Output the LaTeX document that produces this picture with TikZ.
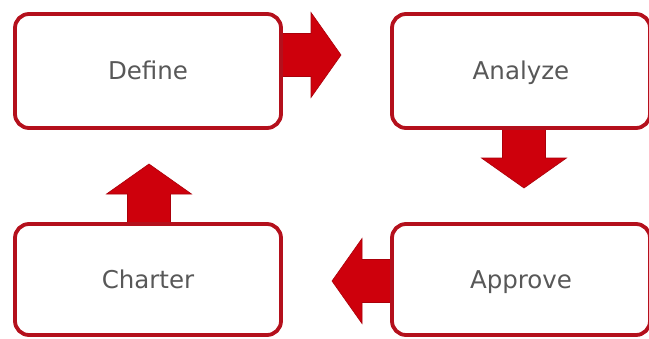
\documentclass[tikz,border=0pt]{standalone}
\usepackage{fontspec}
\setmainfont{DejaVu Sans}
\usetikzlibrary{calc,backgrounds}
\definecolor{boxline}{RGB}{180,16,28}
\definecolor{arrowfill}{RGB}{206,0,12}
\definecolor{arrowedge}{RGB}{170,0,10}
\definecolor{labelgray}{RGB}{88,88,88}
\tikzset{
  stagebox/.style={draw=boxline, line width=3.8pt, rounded corners=14pt,
    fill=white, outer sep=0pt, inner sep=0pt,
    text height=17.5pt, text depth=-4pt,
    font=\fontsize{24.5}{28}\selectfont, text=labelgray},
  blockarrow/.style={fill=arrowfill, draw=arrowedge, line width=0.6pt},
}
% block arrow pointing along +x from the origin: shaft 30, head 30
\newcommand{\blockarrowpath}{(0,-21.5) -- (30,-21.5) -- (30,-42.5) -- (60,0)
  -- (30,42.5) -- (30,21.5) -- (0,21.5) -- cycle}
\begin{document}
\begin{tikzpicture}[x=1pt,y=-1pt]
\useasboundingbox (0,0) rectangle (649,338);
\clip (0,0) rectangle (649,338);

% stage boxes
\node[stagebox, minimum width=266pt, minimum height=114pt] (define)  at (148,71)    {Define};
\node[stagebox, minimum width=258pt, minimum height=114pt] (analyze) at (521,71)    {Analyze};
\node[stagebox, minimum width=266pt, minimum height=111pt] (charter) at (148,279.5) {Charter};
\node[stagebox, minimum width=258pt, minimum height=111pt] (approve) at (521,279.5) {Approve};

% arrow bases on the box borders
\coordinate (a1) at ($(define.east)+(0,-16)$);
\coordinate (a2) at ($(analyze.south)+(3,0)$);
\coordinate (a3) at ($(approve.west)+(0,1.5)$);
\coordinate (a4) at ($(charter.north)+(1,0)$);

% block arrows, behind the boxes so the borders cover their bases
\begin{pgfonlayer}{background}
\fill[blockarrow, shift={(a1)}] \blockarrowpath;
\fill[blockarrow, shift={(a2)}, rotate=-90] \blockarrowpath;
\fill[blockarrow, shift={(a3)}, rotate=180] \blockarrowpath;
\fill[blockarrow, shift={(a4)}, rotate=90] \blockarrowpath;
\end{pgfonlayer}
\end{tikzpicture}
\end{document}
